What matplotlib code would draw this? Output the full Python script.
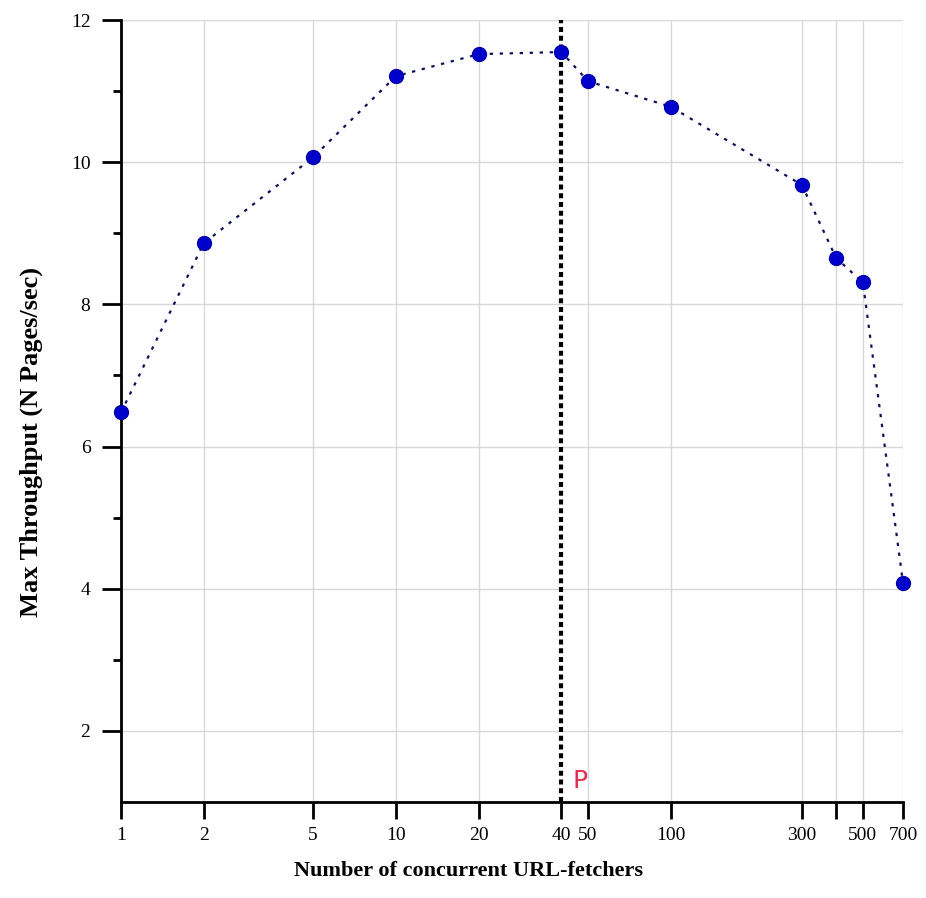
import numpy as np
import matplotlib
matplotlib.use('Agg')
import matplotlib.pyplot as plt
from matplotlib.ticker import FixedLocator, NullFormatter

# Data
fetchers = [1, 2, 5, 10, 20, 40, 50, 100, 300, 400, 500, 700]
throughput = [6.48, 8.86, 10.07, 11.21, 11.52, 11.55, 11.14, 10.78, 9.68, 8.65, 8.31, 4.08]
x_ticks = [1, 2, 5, 10, 20, 40, 50, 100, 300, 400, 500, 700]
x_tick_labels = ['1', '2', '5', '10', '20', '40', '50', '100', '300', '', '500', '700']
y_ticks = [2, 4, 6, 8, 10, 12]
y_minor = [3, 5, 7, 9, 11]
peak_x = 40

plt.rcParams['font.family'] = ['Liberation Serif', 'DejaVu Serif']

fig = plt.figure(figsize=(9.26, 8.98), dpi=100)
ax = fig.add_axes([0.1307, 0.1069, 0.8445, 0.8708])

ax.set_xscale('log')
ax.set_xlim(1, 700)
ax.set_ylim(1, 12)

# grid
for xv in x_ticks[1:]:
    if xv != peak_x:
        ax.axvline(xv, color='#d8d8d8', lw=1, zorder=0)
for yv in y_ticks:
    ax.axhline(yv, color='#d8d8d8', lw=1, zorder=0)

ax.plot(fetchers, throughput, linestyle=(0, (1.5, 3)), color='#10105a', lw=1.6,
        marker='o', markersize=10, markerfacecolor='#0000cc',
        markeredgecolor='#0000aa', zorder=3, clip_on=False)

ax.axvline(peak_x, color='black', lw=3, linestyle=(0, (1.2, 0.9)), zorder=2)
ax.text(44, 1.2, 'P', color='#e03050', fontsize=18, family='DejaVu Sans')

ax.xaxis.set_major_locator(FixedLocator(x_ticks))
ax.set_xticklabels(x_tick_labels)
ax.xaxis.set_minor_locator(FixedLocator([]))
ax.xaxis.set_minor_formatter(NullFormatter())
ax.set_yticks(y_ticks)
ax.yaxis.set_minor_locator(FixedLocator(y_minor))

ax.tick_params(axis='x', which='major', direction='out', length=12, width=2, labelsize=14, pad=6)
ax.tick_params(axis='y', which='major', direction='out', length=14, width=2, labelsize=14, pad=8)
ax.tick_params(axis='y', which='minor', direction='out', length=6, width=2)

for s in ['top', 'right']:
    ax.spines[s].set_visible(False)
for s in ['left', 'bottom']:
    ax.spines[s].set_linewidth(2)

ax.set_xlabel('Number of concurrent URL-fetchers', fontsize=16, fontweight='bold')
ax.set_ylabel('Max Throughput (N Pages/sec)', fontsize=19, fontweight='bold')
ax.xaxis.set_label_coords(0.444, -0.075)
ax.yaxis.set_label_coords(-0.1, 0.46)

fig.savefig('out.png', dpi=100)
